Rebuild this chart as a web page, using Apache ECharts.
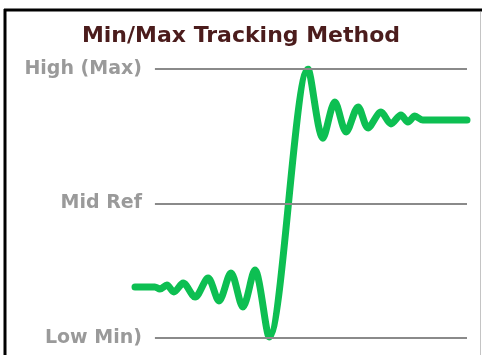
<!DOCTYPE html>
<html>
<head>
<meta charset="utf-8">
<script src="https://cdn.jsdelivr.net/npm/echarts@6/dist/echarts.min.js"></script>
<style>
  html, body { margin: 0; padding: 0; background: #fff; }
  #main { width: 482px; height: 355px; }
</style>
</head>
<body>
<div id="main"></div>
<script>
// time position along the trace (0..100) and signal level (0 = low, 100 = high)
var timeVals = [0, 6.0, 7.5, 9.6, 11.7, 14.5, 18.1, 22.0, 25.3, 28.9, 32.5, 36.1, 40.4,
  52.1, 56.6, 60.2, 63.6, 67.2, 70.2, 74.1, 77.1, 80.1, 82.2, 84.3, 86.7, 100];
var signalVals = [19.0, 19.0, 18.2, 19.7, 17.1, 20.4, 15.2, 22.3, 13.8, 24.2, 11.5, 25.3, 0.4,
  100, 74.3, 87.7, 76.6, 85.9, 78.1, 84.0, 79.6, 82.9, 80.3, 82.5, 81.0, 81.0];

var refLevels = [100, 50, 0];
var refLabels = ['High (Max)', 'Mid Ref', 'Low Min)'];
var refStart = 6;
var refEnd = 100;

var titleText = 'Min/Max Tracking Method';

var chart = echarts.init(document.getElementById('main'));

var seriesData = timeVals.map(function(t, i) {
  return [t, signalVals[i]];
});

var refLines = refLevels.map(function(lv, i) {
  return [
    { coord: [refStart, lv], label: { formatter: refLabels[i] } },
    { coord: [refEnd, lv] }
  ];
});

var option = {
  backgroundColor: '#fff',
  animation: false,
  title: {
    text: titleText,
    left: 'center',
    top: 20,
    textStyle: {
      fontFamily: 'DejaVu Sans',
      fontWeight: 'bold',
      fontSize: 22,
      color: '#4b1c1c'
    }
  },
  grid: {
    left: 135,
    right: 15,
    top: 69,
    bottom: 17
  },
  xAxis: {
    type: 'value',
    min: 0,
    max: 100,
    show: false
  },
  yAxis: {
    type: 'value',
    min: 0,
    max: 100,
    show: false
  },
  graphic: [
    // frame
    { type: 'line', shape: { x1: 5, y1: 9, x2: 5, y2: 355 }, style: { stroke: '#000', lineWidth: 3 }, z: 10 },
    { type: 'line', shape: { x1: 4, y1: 10, x2: 482, y2: 10 }, style: { stroke: '#000', lineWidth: 3 }, z: 10 },
    { type: 'line', shape: { x1: 480.5, y1: 12, x2: 480.5, y2: 355 }, style: { stroke: '#c4c4c4', lineWidth: 1 }, z: 10 }
  ],
  series: [
    {
      type: 'line',
      data: [],
      z: 1,
      silent: true,
      markLine: {
        silent: true,
        symbol: 'none',
        lineStyle: { color: '#8a8a8a', width: 2, type: 'solid' },
        label: {
          position: 'start',
          distance: 13,
          fontFamily: 'DejaVu Sans',
          fontWeight: 'bold',
          fontSize: 19,
          color: '#9a9a9a'
        },
        data: refLines
      }
    },
    {
      type: 'line',
      data: seriesData,
      z: 3,
      smooth: 0.3,
      symbol: 'none',
      lineStyle: {
        color: '#0dbf52',
        width: 7,
        cap: 'round',
        join: 'round'
      }
    }
  ]
};

chart.setOption(option);
</script>
</body>
</html>
